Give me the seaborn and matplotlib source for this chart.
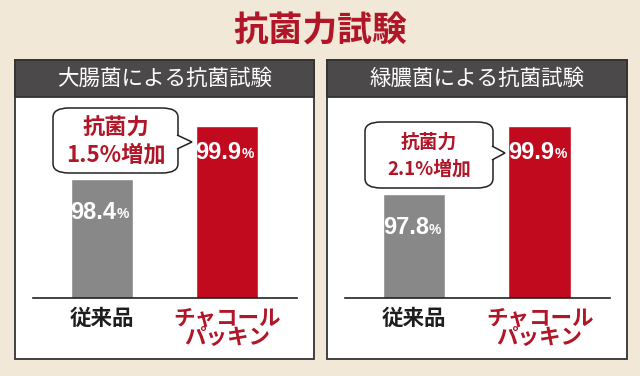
import seaborn as sns
import matplotlib.pyplot as plt
from matplotlib.patches import Rectangle, FancyBboxPatch, Polygon

# data
title = "抗菌力試験"
panel_titles = ["大腸菌による抗菌試験", "緑膿菌による抗菌試験"]
categories = ["従来品", "チャコール\nパッキン"]
ecoli = [98.4, 99.9]
pseudomonas = [97.8, 99.9]

sns.set_theme(style="white")
plt.rcParams['font.family'] = ['Noto Sans CJK JP', 'DejaVu Sans']

BG = "#f2e8d8"
RED = "#c20a1e"
GRAY = "#888888"
HEAD = "#4b4949"
TXT_RED = "#b01628"

W, H = 640, 376
fig = plt.figure(figsize=(6.4, 3.76), dpi=100, facecolor=BG)


def fx(x):
    return x / W


def fy(y):
    return 1 - y / H


fig.text(0.5, fy(31), title, ha="center", va="center", fontsize=25,
         fontweight="bold", color=TXT_RED)

# panel geometry in pixels: box left/right, axes left/right, ylim, bubble box
panels = [
    dict(box=(15, 314), ax=(33, 297), ylim=(95.03, 100.72), vals=ecoli,
         bub=(53, 108, 178, 173), tip=(192, 142), bfs=16),
    dict(box=(327, 627), ax=(345, 610), ylim=(94.6, 100.79), vals=pseudomonas,
         bub=(365, 122, 493, 188), tip=(505, 153), bfs=13.5),
]

for p, ptitle in zip(panels, panel_titles):
    x0, x1 = p["box"]
    # white panel with border
    fig.patches.append(Rectangle((fx(x0), fy(359)), fx(x1 - x0), (359 - 60) / H,
                                 transform=fig.transFigure, facecolor="white",
                                 edgecolor="#333333", linewidth=1.3, zorder=-2))
    fig.patches.append(Rectangle((fx(x0), fy(97)), fx(x1 - x0), (97 - 60) / H,
                                 transform=fig.transFigure, facecolor=HEAD,
                                 edgecolor="#333333", linewidth=1.3, zorder=-1))
    fig.text(fx((x0 + x1) / 2), fy(79), ptitle, ha="center", va="center",
             fontsize=15.5, color="white")

    a0, a1 = p["ax"]
    ax = fig.add_axes([fx(a0), fy(298), fx(a1 - a0), (298 - 97) / H])
    ax.set_zorder(1)
    ax.set_facecolor("none")
    sns.barplot(x=categories, y=p["vals"], hue=categories, palette=[GRAY, RED],
                legend=False, width=0.5, saturation=1, ax=ax)
    ax.set_ylim(*p["ylim"])
    ax.set_xlim(-0.55, 1.56)
    for s in ["top", "left", "right"]:
        ax.spines[s].set_visible(False)
    ax.spines["bottom"].set_color("#222222")
    ax.spines["bottom"].set_linewidth(1.2)
    ax.set_yticks([])
    ax.tick_params(axis="x", length=0, pad=7)
    ax.set_xticks([0, 1])
    ax.set_xticklabels(categories, fontsize=15.5, linespacing=0.92, fontweight="bold")
    ax.get_xticklabels()[0].set_color("#1e1e1e")
    ax.get_xticklabels()[1].set_color(TXT_RED)
    ax.set_xlabel("")
    ax.set_ylabel("")

    for i, v in enumerate(p["vals"]):
        off = -24 if i == 0 else -19
        ax.annotate(f"{v:.1f}", (i, v), xytext=(10.5, off), textcoords="offset points",
                    ha="right", va="center", fontsize=17, fontweight="bold",
                    color="white", family=["Liberation Sans", "DejaVu Sans"])
        ax.annotate("%", (i, v), xytext=(10.5, off - 1.5), textcoords="offset points",
                    ha="left", va="center", fontsize=10, fontweight="bold",
                    color="white", family=["Liberation Sans", "DejaVu Sans"])

    # callout bubble
    bx0, by0, bx1, by1 = p["bub"]
    fig.patches.append(FancyBboxPatch((fx(bx0), fy(by1)), fx(bx1 - bx0), (by1 - by0) / H,
                                      boxstyle="round,pad=0,rounding_size=0.025",
                                      transform=fig.transFigure, facecolor="white",
                                      edgecolor="#222222", linewidth=1.1, zorder=5))
    tx, ty = p["tip"]
    fig.patches.append(Polygon([(fx(bx1 - 1), fy(ty - 7)), (fx(tx), fy(ty)),
                                (fx(bx1 - 1), fy(ty + 7))], closed=False,
                               transform=fig.transFigure, facecolor="white",
                               edgecolor="#222222", linewidth=1.1, zorder=6))
    gain = p["vals"][1] - p["vals"][0]
    cx = (bx0 + bx1) / 2
    h = by1 - by0
    fig.text(fx(cx), fy(by0 + h * 0.31), "抗菌力", ha="center", va="center",
             fontsize=p["bfs"], fontweight="bold", color=TXT_RED, zorder=7)
    fig.text(fx(cx), fy(by0 + h * 0.72), f"{gain:.1f}%増加", ha="center", va="center",
             fontsize=p["bfs"], fontweight="bold", color=TXT_RED, zorder=7)

fig.savefig("out.png", dpi=100, facecolor=BG)
